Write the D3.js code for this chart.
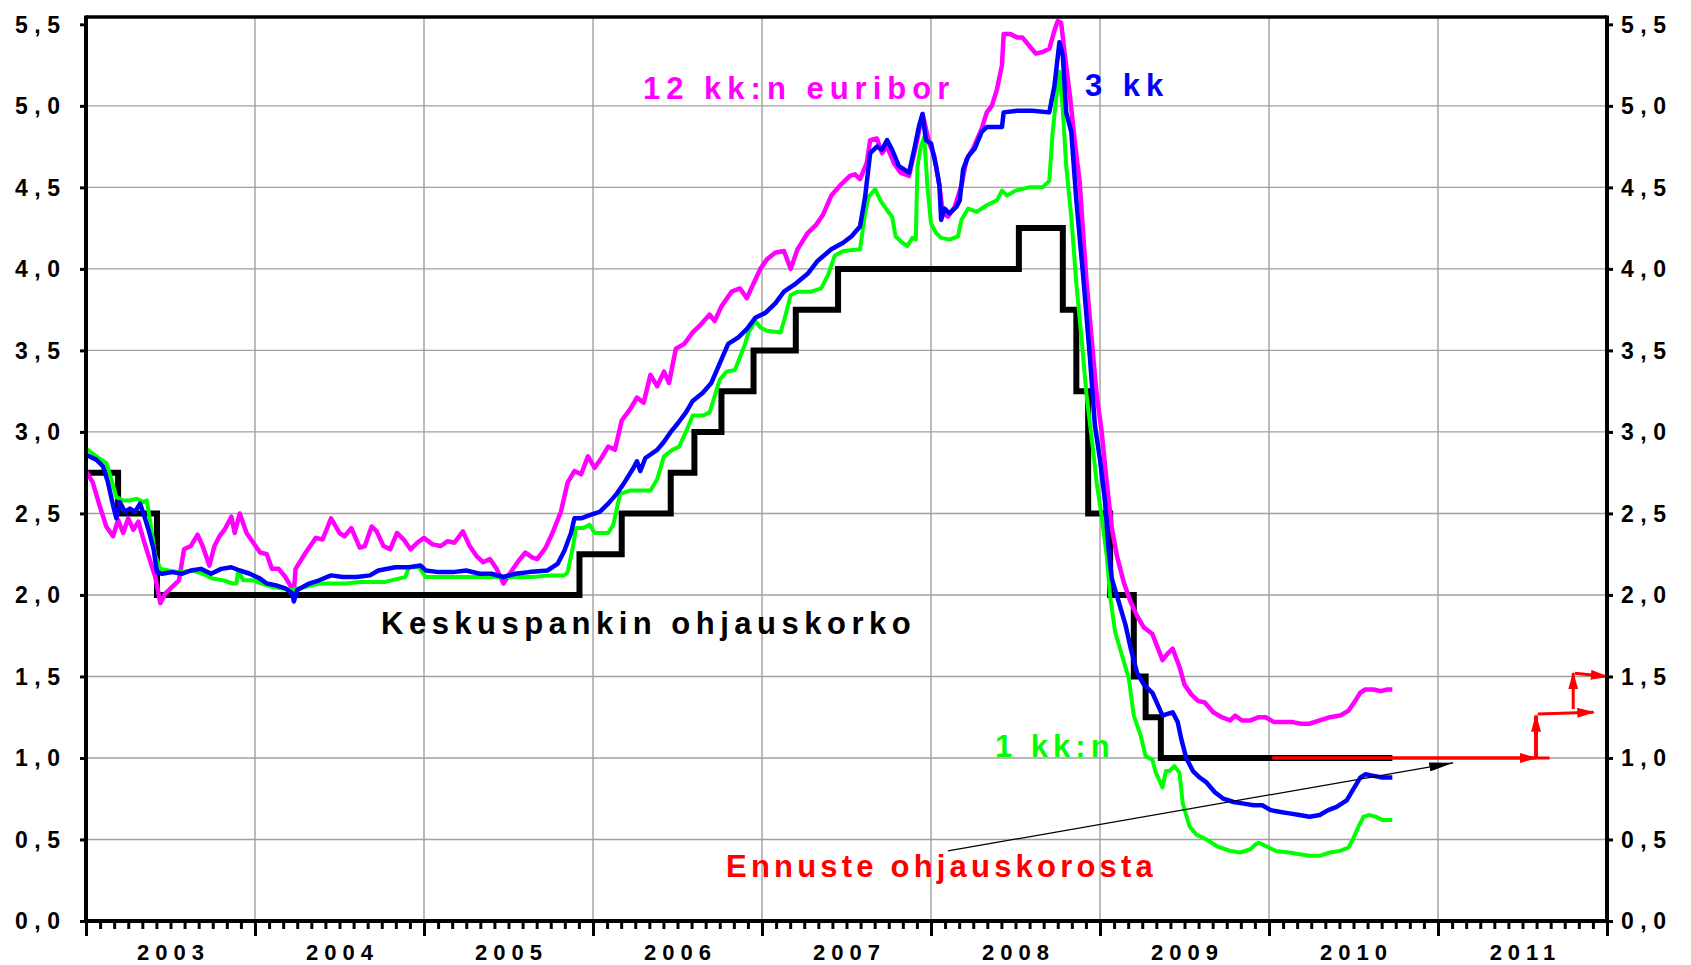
<!DOCTYPE html>
<html>
<head>
<meta charset="utf-8">
<script src="https://cdn.jsdelivr.net/npm/d3@7"></script>
<style>
  html, body { margin: 0; padding: 0; background: #fff; }
  text { font-family: "Liberation Sans", Arial, sans-serif; font-weight: bold; }
</style>
</head>
<body>
<div id="chart"></div>
<script>
// 12 kk euribor [year, %]
const euribor12 = [
  [2003.00,2.76],[2003.04,2.69],[2003.08,2.55],[2003.12,2.42],[2003.16,2.36],[2003.19,2.46],[2003.22,2.38],
  [2003.25,2.47],[2003.28,2.40],[2003.31,2.45],[2003.34,2.34],[2003.37,2.24],[2003.41,2.11],[2003.44,1.95],
  [2003.47,2.01],[2003.51,2.05],[2003.55,2.09],[2003.58,2.28],[2003.62,2.30],[2003.66,2.37],[2003.69,2.30],
  [2003.73,2.18],[2003.76,2.30],[2003.79,2.36],[2003.82,2.40],[2003.86,2.48],[2003.88,2.38],[2003.91,2.50],
  [2003.95,2.38],[2003.99,2.32],[2004.03,2.26],[2004.07,2.25],[2004.10,2.16],[2004.14,2.16],[2004.18,2.11],
  [2004.23,2.02],[2004.24,2.16],[2004.30,2.26],[2004.36,2.35],[2004.40,2.34],[2004.45,2.47],[2004.50,2.38],
  [2004.53,2.36],[2004.57,2.41],[2004.62,2.29],[2004.65,2.30],[2004.69,2.42],[2004.72,2.39],[2004.76,2.30],
  [2004.80,2.28],[2004.84,2.38],[2004.88,2.34],[2004.92,2.28],[2004.96,2.32],[2005.00,2.35],[2005.05,2.31],
  [2005.10,2.30],[2005.14,2.33],[2005.18,2.32],[2005.23,2.39],[2005.27,2.30],[2005.31,2.24],[2005.35,2.20],
  [2005.39,2.22],[2005.43,2.16],[2005.47,2.07],[2005.52,2.15],[2005.56,2.21],[2005.60,2.26],[2005.64,2.23],
  [2005.67,2.22],[2005.72,2.29],[2005.76,2.38],[2005.81,2.51],[2005.85,2.69],[2005.89,2.76],[2005.93,2.74],
  [2005.97,2.85],[2006.01,2.78],[2006.05,2.84],[2006.09,2.91],[2006.13,2.89],[2006.17,3.07],[2006.22,3.14],
  [2006.26,3.21],[2006.30,3.18],[2006.34,3.35],[2006.38,3.28],[2006.42,3.37],[2006.45,3.30],[2006.49,3.51],
  [2006.54,3.54],[2006.59,3.61],[2006.63,3.65],[2006.69,3.72],[2006.72,3.68],[2006.76,3.77],[2006.82,3.86],
  [2006.87,3.88],[2006.91,3.82],[2006.95,3.91],[2006.99,4.00],[2007.03,4.06],[2007.08,4.10],[2007.13,4.11],
  [2007.17,4.00],[2007.21,4.12],[2007.27,4.22],[2007.32,4.27],[2007.36,4.33],[2007.41,4.45],[2007.47,4.52],
  [2007.52,4.57],[2007.55,4.58],[2007.58,4.55],[2007.62,4.65],[2007.64,4.79],[2007.68,4.80],[2007.71,4.71],
  [2007.74,4.75],[2007.78,4.65],[2007.82,4.59],[2007.87,4.57],[2007.91,4.75],[2007.95,4.95],[2007.99,4.77],
  [2008.02,4.69],[2008.05,4.51],[2008.07,4.34],[2008.10,4.32],[2008.14,4.38],[2008.18,4.51],[2008.21,4.67],
  [2008.25,4.74],[2008.30,4.86],[2008.33,4.96],[2008.36,5.00],[2008.39,5.10],[2008.42,5.25],[2008.43,5.44],
  [2008.47,5.44],[2008.51,5.42],[2008.54,5.42],[2008.58,5.37],[2008.62,5.32],[2008.66,5.33],[2008.70,5.35],
  [2008.73,5.46],[2008.75,5.52],[2008.77,5.51],[2008.79,5.33],[2008.82,5.08],[2008.85,4.79],[2008.88,4.53],
  [2008.90,4.22],[2008.92,3.93],[2008.95,3.58],[2008.98,3.23],[2009.01,3.00],[2009.04,2.69],[2009.07,2.41],
  [2009.10,2.24],[2009.14,2.08],[2009.18,1.96],[2009.22,1.87],[2009.26,1.80],[2009.31,1.76],[2009.34,1.68],
  [2009.37,1.60],[2009.40,1.64],[2009.43,1.67],[2009.47,1.56],[2009.50,1.45],[2009.54,1.39],[2009.58,1.35],
  [2009.62,1.34],[2009.67,1.28],[2009.72,1.25],[2009.77,1.23],[2009.80,1.26],[2009.84,1.23],[2009.89,1.23],
  [2009.94,1.25],[2009.98,1.25],[2010.03,1.22],[2010.08,1.22],[2010.14,1.22],[2010.19,1.21],[2010.24,1.21],
  [2010.30,1.23],[2010.36,1.25],[2010.42,1.26],[2010.47,1.29],[2010.51,1.35],[2010.54,1.40],[2010.57,1.42],
  [2010.62,1.42],[2010.66,1.41],[2010.70,1.42],[2010.73,1.42]
];

// 3 kk euribor
const euribor3 = [
  [2003.00,2.86],[2003.06,2.83],[2003.10,2.79],[2003.13,2.69],[2003.16,2.55],[2003.18,2.47],[2003.20,2.57],
  [2003.23,2.51],[2003.26,2.53],[2003.29,2.51],[2003.32,2.56],[2003.34,2.50],[2003.37,2.40],[2003.40,2.28],
  [2003.42,2.14],[2003.45,2.13],[2003.51,2.14],[2003.57,2.13],[2003.62,2.15],[2003.68,2.16],[2003.74,2.13],
  [2003.80,2.16],[2003.86,2.17],[2003.91,2.15],[2003.97,2.13],[2004.03,2.10],[2004.07,2.07],[2004.12,2.06],
  [2004.18,2.04],[2004.22,2.01],[2004.23,1.96],[2004.25,2.03],[2004.32,2.07],[2004.38,2.09],[2004.45,2.12],
  [2004.52,2.11],[2004.60,2.11],[2004.68,2.12],[2004.73,2.15],[2004.83,2.17],[2004.91,2.17],[2004.98,2.18],
  [2005.01,2.15],[2005.09,2.14],[2005.17,2.14],[2005.25,2.15],[2005.33,2.13],[2005.40,2.13],[2005.47,2.11],
  [2005.54,2.13],[2005.62,2.14],[2005.73,2.15],[2005.79,2.19],[2005.83,2.27],[2005.87,2.38],[2005.89,2.47],
  [2005.93,2.47],[2005.98,2.49],[2006.04,2.51],[2006.09,2.56],[2006.14,2.62],[2006.18,2.68],[2006.24,2.78],
  [2006.26,2.82],[2006.28,2.76],[2006.31,2.84],[2006.38,2.89],[2006.42,2.94],[2006.46,3.00],[2006.50,3.05],
  [2006.55,3.12],[2006.59,3.19],[2006.65,3.24],[2006.70,3.30],[2006.75,3.42],[2006.80,3.54],[2006.86,3.58],
  [2006.91,3.63],[2006.96,3.70],[2007.02,3.73],[2007.08,3.79],[2007.13,3.86],[2007.20,3.91],[2007.27,3.97],
  [2007.33,4.05],[2007.41,4.12],[2007.48,4.16],[2007.53,4.20],[2007.58,4.26],[2007.61,4.44],[2007.64,4.71],
  [2007.68,4.75],[2007.71,4.73],[2007.74,4.79],[2007.77,4.73],[2007.81,4.63],[2007.87,4.59],[2007.90,4.73],
  [2007.93,4.88],[2007.95,4.95],[2007.97,4.79],[2008.00,4.77],[2008.03,4.63],[2008.05,4.51],[2008.06,4.30],
  [2008.08,4.37],[2008.11,4.34],[2008.15,4.38],[2008.17,4.42],[2008.19,4.61],[2008.22,4.69],[2008.26,4.74],
  [2008.30,4.84],[2008.33,4.87],[2008.42,4.87],[2008.43,4.96],[2008.51,4.97],[2008.60,4.97],[2008.70,4.96],
  [2008.73,5.12],[2008.76,5.39],[2008.78,5.31],[2008.80,4.96],[2008.83,4.84],[2008.86,4.42],[2008.90,3.96],
  [2008.94,3.46],[2008.97,3.04],[2009.00,2.83],[2009.03,2.57],[2009.05,2.29],[2009.07,2.10],[2009.11,1.96],
  [2009.15,1.82],[2009.18,1.68],[2009.22,1.52],[2009.26,1.45],[2009.31,1.40],[2009.34,1.33],[2009.37,1.26],
  [2009.40,1.27],[2009.43,1.28],[2009.46,1.22],[2009.48,1.12],[2009.51,1.00],[2009.55,0.92],[2009.59,0.88],
  [2009.63,0.85],[2009.68,0.79],[2009.73,0.75],[2009.79,0.73],[2009.85,0.72],[2009.91,0.71],[2009.96,0.71],
  [2010.01,0.68],[2010.06,0.67],[2010.12,0.66],[2010.18,0.65],[2010.24,0.64],[2010.30,0.65],[2010.35,0.68],
  [2010.40,0.70],[2010.46,0.74],[2010.50,0.81],[2010.54,0.88],[2010.57,0.90],[2010.62,0.89],[2010.67,0.88],
  [2010.73,0.88]
];

// 1 kk euribor
const euribor1 = [
  [2003.00,2.90],[2003.06,2.85],[2003.12,2.81],[2003.15,2.71],[2003.18,2.60],[2003.22,2.58],[2003.26,2.58],
  [2003.30,2.59],[2003.34,2.57],[2003.36,2.58],[2003.39,2.38],[2003.41,2.24],[2003.44,2.16],[2003.49,2.15],
  [2003.55,2.14],[2003.63,2.15],[2003.69,2.13],[2003.75,2.10],[2003.81,2.09],[2003.87,2.07],[2003.89,2.07],
  [2003.90,2.15],[2003.93,2.09],[2003.99,2.09],[2004.04,2.07],[2004.10,2.05],[2004.16,2.04],[2004.22,2.03],
  [2004.30,2.05],[2004.38,2.07],[2004.46,2.07],[2004.54,2.07],[2004.62,2.08],[2004.70,2.08],[2004.77,2.08],
  [2004.85,2.10],[2004.89,2.11],[2004.91,2.17],[2004.97,2.17],[2004.99,2.14],[2005.01,2.11],[2005.20,2.11],
  [2005.40,2.11],[2005.64,2.11],[2005.75,2.12],[2005.83,2.12],[2005.85,2.14],[2005.88,2.29],[2005.90,2.41],
  [2005.94,2.41],[2005.98,2.43],[2006.01,2.38],[2006.09,2.38],[2006.12,2.43],[2006.16,2.62],[2006.22,2.64],
  [2006.34,2.64],[2006.38,2.71],[2006.42,2.85],[2006.47,2.89],[2006.51,2.91],[2006.55,3.00],[2006.59,3.10],
  [2006.65,3.10],[2006.69,3.12],[2006.72,3.22],[2006.75,3.32],[2006.79,3.37],[2006.84,3.38],[2006.87,3.46],
  [2006.90,3.54],[2006.92,3.61],[2006.96,3.68],[2006.99,3.64],[2007.03,3.62],[2007.11,3.61],[2007.13,3.68],
  [2007.17,3.84],[2007.21,3.86],[2007.29,3.86],[2007.35,3.88],[2007.39,3.96],[2007.43,4.08],[2007.48,4.11],
  [2007.58,4.12],[2007.61,4.34],[2007.63,4.44],[2007.67,4.49],[2007.70,4.42],[2007.74,4.36],[2007.77,4.32],
  [2007.79,4.20],[2007.83,4.16],[2007.86,4.14],[2007.89,4.19],[2007.91,4.18],[2007.92,4.63],[2007.94,4.75],
  [2007.96,4.81],[2007.98,4.49],[2008.00,4.28],[2008.03,4.22],[2008.06,4.19],[2008.11,4.18],[2008.16,4.20],
  [2008.18,4.30],[2008.22,4.37],[2008.27,4.35],[2008.33,4.39],[2008.39,4.42],[2008.42,4.48],[2008.45,4.45],
  [2008.50,4.48],[2008.58,4.50],[2008.66,4.50],[2008.70,4.54],[2008.72,4.84],[2008.74,5.04],[2008.76,5.21],
  [2008.78,4.98],[2008.80,4.63],[2008.83,4.32],[2008.86,3.91],[2008.89,3.58],[2008.92,3.23],[2008.96,2.88],
  [2008.98,2.69],[2009.01,2.48],[2009.04,2.24],[2009.06,1.99],[2009.09,1.77],[2009.13,1.63],[2009.17,1.49],
  [2009.20,1.26],[2009.24,1.14],[2009.27,1.01],[2009.31,0.99],[2009.33,0.91],[2009.37,0.82],[2009.39,0.92],
  [2009.41,0.92],[2009.44,0.95],[2009.47,0.91],[2009.49,0.72],[2009.53,0.58],[2009.57,0.53],[2009.63,0.50],
  [2009.69,0.46],[2009.77,0.43],[2009.83,0.42],[2009.89,0.44],[2009.92,0.47],[2009.94,0.48],[2009.98,0.46],
  [2010.04,0.43],[2010.12,0.42],[2010.18,0.41],[2010.24,0.40],[2010.30,0.40],[2010.36,0.42],[2010.42,0.43],
  [2010.47,0.45],[2010.50,0.51],[2010.53,0.58],[2010.56,0.64],[2010.59,0.65],[2010.63,0.64],[2010.67,0.62],
  [2010.73,0.62]
];

// keskuspankin ohjauskorko, step starts
const ecbRate = [
  [2003.00,2.75],[2003.19,2.50],[2003.42,2.00],[2005.92,2.25],[2006.17,2.50],[2006.46,2.75],[2006.60,3.00],
  [2006.76,3.25],[2006.95,3.50],[2007.20,3.75],[2007.45,4.00],[2008.52,4.25],[2008.78,3.75],[2008.86,3.25],
  [2008.93,2.50],[2009.06,2.00],[2009.20,1.50],[2009.27,1.25],[2009.36,1.00],[2010.73,1.00]
];

// ennuste (red arrows)
const forecastLine = [[2010.02,1.00],[2011.66,1.00]];
const forecastArrows = [
  [[2010.02,1.00],[2011.58,1.00]],
  [[2011.58,1.00],[2011.58,1.26]],
  [[2011.59,1.27],[2011.92,1.28]],
  [[2011.80,1.30],[2011.80,1.52]],
  [[2011.81,1.52],[2012.00,1.50]]
];
const noteArrow = [[2008.10,0.43],[2011.09,0.97]];

const years = [2003,2004,2005,2006,2007,2008,2009,2010,2011];
const yTicks = [0,0.5,1,1.5,2,2.5,3,3.5,4,4.5,5,5.5];

const W = 1691, H = 965;
const plotL = 86, plotR = 1607, plotT = 17, plotB = 921;

const svg = d3.select('#chart').append('svg')
  .attr('width', W).attr('height', H);

const x = d3.scaleLinear().domain([2003, 2012]).range([plotL, plotR]);
const y = d3.scaleLinear().domain([0, 5.545]).range([plotB, plotT]);

const fi = d3.formatLocale({decimal: ',', thousands: ' ', grouping: [3], currency: ['', '€']});
const fmt = fi.format('.1f');

// arrow heads
const defs = svg.append('defs');
defs.append('marker').attr('id', 'redHead')
  .attr('viewBox', '0 0 10 10').attr('refX', 9).attr('refY', 5)
  .attr('markerWidth', 18).attr('markerHeight', 10)
  .attr('preserveAspectRatio', 'none')
  .attr('markerUnits', 'userSpaceOnUse').attr('orient', 'auto')
  .append('path').attr('d', 'M0,0L10,5L0,10z').attr('fill', '#ff0000');
defs.append('marker').attr('id', 'blackHead')
  .attr('viewBox', '0 0 10 10').attr('refX', 10).attr('refY', 5)
  .attr('markerWidth', 24).attr('markerHeight', 9)
  .attr('preserveAspectRatio', 'none')
  .attr('markerUnits', 'userSpaceOnUse').attr('orient', 'auto')
  .append('path').attr('d', 'M0,0L10,5L0,10z').attr('fill', '#000');

// grid
svg.append('g').selectAll('line')
  .data(yTicks.filter(d => d > 0 && d < 5.5))
  .enter().append('line')
  .attr('x1', plotL).attr('x2', plotR)
  .attr('y1', d => y(d)).attr('y2', d => y(d))
  .attr('stroke', '#a0a0a0').attr('stroke-width', 1.4);
svg.append('g').selectAll('line')
  .data(years.slice(1))
  .enter().append('line')
  .attr('x1', d => x(d)).attr('x2', d => x(d))
  .attr('y1', plotT).attr('y2', plotB)
  .attr('stroke', '#a0a0a0').attr('stroke-width', 1.4);

// month ticks
const months = d3.range(0, 9 * 12 + 1).map(i => 2003 + i / 12);
svg.append('g').attr('transform', `translate(0,${plotB})`)
  .call(d3.axisBottom(x).tickValues(months.filter((d, i) => i % 12 !== 0)).tickSize(8).tickFormat(''))
  .call(g => g.select('.domain').remove())
  .call(g => g.selectAll('line').attr('stroke-width', 3));
svg.append('g').attr('transform', `translate(0,${plotB})`)
  .call(d3.axisBottom(x).tickValues(years.concat([2012])).tickSize(15).tickFormat(''))
  .call(g => g.select('.domain').remove())
  .call(g => g.selectAll('line').attr('stroke-width', 3));

// y ticks both sides
svg.append('g').attr('transform', `translate(${plotL},0)`)
  .call(d3.axisLeft(y).tickValues(yTicks).tickSize(6).tickFormat(''))
  .call(g => g.select('.domain').remove())
  .call(g => g.selectAll('line').attr('stroke-width', 3));
svg.append('g').attr('transform', `translate(${plotR},0)`)
  .call(d3.axisRight(y).tickValues(yTicks).tickSize(6).tickFormat(''))
  .call(g => g.select('.domain').remove())
  .call(g => g.selectAll('line').attr('stroke-width', 3));

// tick labels
svg.append('g').selectAll('text').data(yTicks).enter().append('text')
  .attr('x', 15).attr('y', d => y(d)).attr('dy', '0.36em')
  .attr('font-size', 23).attr('letter-spacing', 6.5)
  .text(d => fmt(d));
svg.append('g').selectAll('text').data(yTicks).enter().append('text')
  .attr('x', 1621).attr('y', d => y(d)).attr('dy', '0.36em')
  .attr('font-size', 23).attr('letter-spacing', 6.5)
  .text(d => fmt(d));
svg.append('g').selectAll('text').data(years).enter().append('text')
  .attr('x', d => x(d + 0.5) + 3).attr('y', 960)
  .attr('text-anchor', 'middle')
  .attr('font-size', 22).attr('letter-spacing', 6)
  .text(d => d);

// series
const line = d3.line().x(d => x(d[0])).y(d => y(d[1]));
const stepLine = d3.line().x(d => x(d[0])).y(d => y(d[1])).curve(d3.curveStepAfter);
svg.append('path').datum(ecbRate).attr('d', stepLine)
  .attr('fill', 'none').attr('stroke', '#000').attr('stroke-width', 6);
svg.append('path').datum(euribor12).attr('d', line)
  .attr('fill', 'none').attr('stroke', '#ff00ff').attr('stroke-width', 4.5).attr('stroke-linejoin', 'round');
svg.append('path').datum(euribor1).attr('d', line)
  .attr('fill', 'none').attr('stroke', '#00ff00').attr('stroke-width', 4).attr('stroke-linejoin', 'round');
svg.append('path').datum(euribor3).attr('d', line)
  .attr('fill', 'none').attr('stroke', '#0000ff').attr('stroke-width', 4.5).attr('stroke-linejoin', 'round');

// forecast
svg.append('path').datum(forecastLine).attr('d', line)
  .attr('fill', 'none').attr('stroke', '#ff0000').attr('stroke-width', 3);
svg.append('g').selectAll('path').data(forecastArrows).enter().append('path')
  .attr('d', line)
  .attr('fill', 'none').attr('stroke', '#ff0000').attr('stroke-width', (d, i) => i === 1 ? 4 : 3)
  .attr('marker-end', 'url(#redHead)');
svg.append('path').datum(noteArrow).attr('d', line)
  .attr('fill', 'none').attr('stroke', '#000').attr('stroke-width', 1.2)
  .attr('marker-end', 'url(#blackHead)');

// frame
svg.append('line').attr('x1', plotL).attr('x2', plotR).attr('y1', plotT).attr('y2', plotT)
  .attr('stroke', '#000').attr('stroke-width', 3.5);
svg.append('line').attr('x1', plotL).attr('x2', plotR).attr('y1', plotB).attr('y2', plotB)
  .attr('stroke', '#000').attr('stroke-width', 4);
svg.append('line').attr('x1', plotL).attr('x2', plotL).attr('y1', plotT - 1.5).attr('y2', plotB + 2)
  .attr('stroke', '#000').attr('stroke-width', 4);
svg.append('line').attr('x1', plotR).attr('x2', plotR).attr('y1', plotT - 1.5).attr('y2', plotB + 2)
  .attr('stroke', '#000').attr('stroke-width', 4);

// labels
const label = (txt, px, py, col, ls) => svg.append('text')
  .attr('x', px).attr('y', py).attr('fill', col)
  .attr('font-size', 31).attr('letter-spacing', ls).text(txt);
label('12 kk:n euribor', 643, 99, '#ff00ff', 6);
label('3 kk', 1085, 96, '#0000ff', 6);
label('Keskuspankin ohjauskorko', 381, 634, '#000000', 5.5);
label('1 kk:n', 995, 757, '#00ff00', 5);
label('Ennuste ohjauskorosta', 726, 877, '#ff0000', 4.2);
</script>
</body>
</html>
